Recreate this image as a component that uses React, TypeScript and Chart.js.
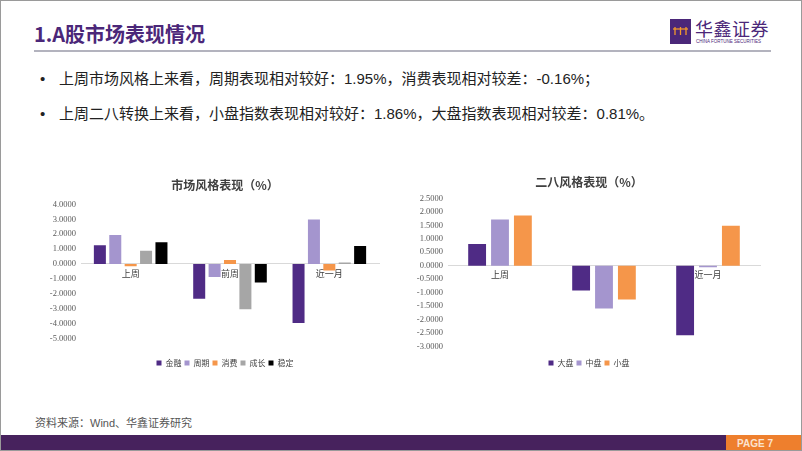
import React, { useEffect, useRef } from "react";
import { Chart, registerables } from "chart.js";
Chart.register(...registerables);

// ---- data ----
const periodLabels = ["上周", "前周", "近一月"];

const styleSeriesNames = ["金融", "周期", "消费", "成长", "稳定"];
const financeValues = [1.25, -2.33, -3.96];
const cyclicalValues = [1.95, -0.88, 2.99];
const consumerValues = [-0.16, 0.26, -0.44];
const growthValues = [0.88, -3.04, 0.1];
const stableValues = [1.45, -1.25, 1.21];
const styleAxis = [-5, 4, 1];

const capSeriesNames = ["大盘", "中盘", "小盘"];
const largeCapValues = [0.81, -0.92, -2.59];
const midCapValues = [1.72, -1.59, -0.06];
const smallCapValues = [1.86, -1.26, 1.48];
const capAxis = [-3, 2.5, 0.5];

// ---- styles ----
const CJK = '"Noto Sans CJK SC", "Liberation Sans", sans-serif';
const LATIN_CJK = '"Liberation Sans", "Noto Sans CJK SC", sans-serif';
const DARK_PURPLE = "#4F2B85";
const LIGHT_PURPLE = "#A495CE";
const ORANGE = "#F5964A";
const GRAY = "#A6A6A6";
const BLACK = "#000000";

type ChartSpec = {
  title: string;
  names: string[];
  series: number[][];
  colors: string[];
  axis: number[];
  yWidth: number;
  rightGap: number;
  titleTop: number;
  titleBottom: number;
  legendGap: number;
  catPct: number;
  barPct: number;
};

function BarPanel(props: { spec: ChartSpec; left: number; top: number; width: number; height: number }) {
  const ref = useRef<HTMLCanvasElement | null>(null);
  const { spec } = props;
  useEffect(() => {
    if (!ref.current) return;
    const chart = new Chart(ref.current, {
      type: "bar",
      data: {
        labels: periodLabels,
        datasets: spec.series.map((vals, i) => ({
          label: spec.names[i],
          data: vals,
          backgroundColor: spec.colors[i],
          borderWidth: 0,
          categoryPercentage: spec.catPct,
          barPercentage: spec.barPct,
          yAxisID: "y",
        })),
      },
      options: {
        responsive: false,
        animation: false,
        devicePixelRatio: 1,
        layout: { padding: 0 },
        plugins: {
          tooltip: { enabled: false },
          title: {
            display: true,
            text: spec.title,
            color: "#404040",
            font: { family: CJK, size: 12, weight: "bold" },
            padding: { top: spec.titleTop, bottom: spec.titleBottom },
          },
          legend: {
            position: "bottom",
            title: { display: true, text: " ", padding: spec.legendGap, font: { size: 8 } },
            labels: {
              boxWidth: 5,
              boxHeight: 5,
              padding: 3,
              color: "#404040",
              font: { family: CJK, size: 8 },
            },
          },
        },
        scales: {
          x: {
            position: { y: 0 } as any,
            grid: { display: false, drawTicks: false },
            border: { color: "#D9D9D9" },
            ticks: { padding: 4, color: "#404040", font: { family: CJK, size: 9 } },
          },
          y: {
            position: "left",
            min: spec.axis[0],
            max: spec.axis[1],
            grid: { display: false, drawTicks: false },
            border: { display: false },
            ticks: {
              stepSize: spec.axis[2],
              padding: 5,
              color: "#595959",
              font: { family: '"Liberation Serif", serif', size: 8.5 },
              callback: (v: any) => Number(v).toFixed(4),
            },
            afterFit: (s: any) => {
              s.width = spec.yWidth;
            },
          },
          yGap: {
            position: "right",
            display: true,
            grid: { display: false, drawTicks: false },
            border: { display: false },
            ticks: { display: false },
            afterFit: (s: any) => {
              s.width = spec.rightGap;
            },
          },
        },
      } as any,
    });
    return () => chart.destroy();
  }, []);
  return (
    <canvas
      ref={ref}
      width={props.width}
      height={props.height}
      style={{ position: "absolute", left: props.left, top: props.top, width: props.width, height: props.height }}
    />
  );
}

const styleSpec: ChartSpec = {
  title: "市场风格表现（%）",
  names: styleSeriesNames,
  series: [financeValues, cyclicalValues, consumerValues, growthValues, stableValues],
  colors: [DARK_PURPLE, LIGHT_PURPLE, ORANGE, GRAY, BLACK],
  axis: styleAxis,
  yWidth: 55,
  rightGap: 45,
  titleTop: 12,
  titleBottom: 12,
  legendGap: 4,
  catPct: 0.775,
  barPct: 0.78,
};

const capSpec: ChartSpec = {
  title: "二八风格表现（%）",
  names: capSeriesNames,
  series: [largeCapValues, midCapValues, smallCapValues],
  colors: [DARK_PURPLE, LIGHT_PURPLE, ORANGE],
  axis: capAxis,
  yWidth: 42,
  rightGap: 12,
  titleTop: 9,
  titleBottom: 9,
  legendGap: 0,
  catPct: 0.66,
  barPct: 0.78,
};

export default function App() {
  useEffect(() => {
    document.body.style.margin = "0";
  }, []);
  return (
    <div
      style={{
        position: "absolute",
        left: 0,
        top: 0,
        width: 802,
        height: 451,
        overflow: "hidden",
        background: "#fff",
        boxSizing: "border-box",
        border: "1px solid #9a9a9a",
        fontFamily: LATIN_CJK,
      }}
    >
      {/* header */}
      <div
        style={{
          position: "absolute",
          left: 33,
          top: 19,
          fontFamily: CJK,
          fontWeight: 700,
          fontSize: 20,
          lineHeight: "28px",
          color: "#4B2779",
          whiteSpace: "nowrap",
        }}
      >
        1.A股市场表现情况
      </div>
      <div style={{ position: "absolute", left: 33, top: 49, width: 737, height: 2, background: "#B3B3BE" }} />
      {/* logo */}
      <div style={{ position: "absolute", left: 669, top: 18, width: 21, height: 25, background: "#4B2779" }}>
        <svg width="21" height="25" viewBox="0 0 21 25">
          <g stroke="#F39A2B" strokeWidth="1.3" fill="none">
            <line x1="3" y1="10" x2="18" y2="10" />
            <line x1="5" y1="8" x2="5" y2="16" />
            <line x1="10.5" y1="8" x2="10.5" y2="16" />
            <line x1="16" y1="8" x2="16" y2="16" />
          </g>
        </svg>
      </div>
      <div
        style={{
          position: "absolute",
          left: 694,
          top: 15,
          fontFamily: CJK,
          fontSize: 18,
          lineHeight: "24px",
          color: "#4B2779",
          letterSpacing: 0.5,
          whiteSpace: "nowrap",
        }}
      >
        华鑫证券
      </div>
      <div
        style={{
          position: "absolute",
          left: 695,
          top: 38,
          fontFamily: '"Liberation Sans", sans-serif',
          fontSize: 4.5,
          lineHeight: "6px",
          color: "#4B2779",
          whiteSpace: "nowrap",
        }}
      >
        CHINA FORTUNE SECURITIES
      </div>

      {/* bullets */}
      <div style={{ position: "absolute", left: 39, top: 68, fontSize: 15, lineHeight: "20px", color: "#222" }}>•</div>
      <div
        style={{ position: "absolute", left: 58, top: 68, fontSize: 15, lineHeight: "20px", color: "#222", whiteSpace: "nowrap" }}
      >
        上周市场风格上来看，周期表现相对较好：1.95%，消费表现相对较差：-0.16%；
      </div>
      <div style={{ position: "absolute", left: 39, top: 103, fontSize: 15, lineHeight: "20px", color: "#222" }}>•</div>
      <div
        style={{ position: "absolute", left: 58, top: 103, fontSize: 15, lineHeight: "20px", color: "#222", whiteSpace: "nowrap" }}
      >
        上周二八转换上来看，小盘指数表现相对较好：1.86%，大盘指数表现相对较差：0.81%。
      </div>

      {/* charts */}
      <BarPanel spec={styleSpec} left={25} top={165} width={398} height={211} />
      <BarPanel spec={capSpec} left={405} top={165} width={366} height={211} />

      {/* source */}
      <div
        style={{
          position: "absolute",
          left: 34,
          top: 414,
          fontSize: 11,
          lineHeight: "16px",
          color: "#555",
          whiteSpace: "nowrap",
        }}
      >
        资料来源：Wind、华鑫证券研究
      </div>

      {/* footer */}
      <div style={{ position: "absolute", left: 0, top: 434, width: 802, height: 17, background: "#47225D" }} />
      <div style={{ position: "absolute", left: 725, top: 434, width: 77, height: 17, background: "#EE7F2D" }} />
      <div
        style={{
          position: "absolute",
          left: 736,
          top: 434,
          fontFamily: '"Liberation Sans", sans-serif',
          fontWeight: 700,
          fontSize: 10,
          lineHeight: "17px",
          color: "#FBE3CF",
          whiteSpace: "nowrap",
        }}
      >
        PAGE 7
      </div>
    </div>
  );
}
